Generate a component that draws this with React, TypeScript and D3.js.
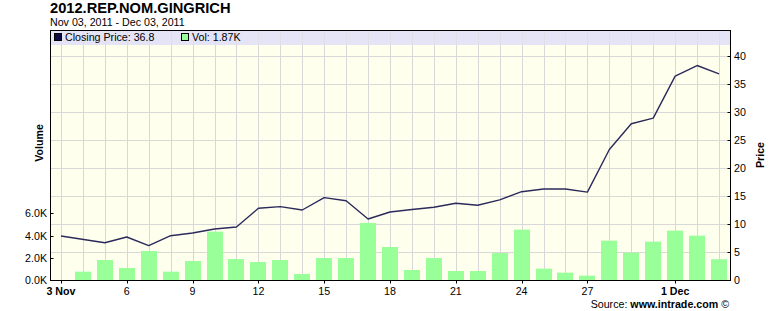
import React from "react";
import * as d3 from "d3";

const dates: string[] = [
  "2011-11-03", "2011-11-04", "2011-11-05", "2011-11-06", "2011-11-07", "2011-11-08",
  "2011-11-09", "2011-11-10", "2011-11-11", "2011-11-12", "2011-11-13", "2011-11-14",
  "2011-11-15", "2011-11-16", "2011-11-17", "2011-11-18", "2011-11-19", "2011-11-20",
  "2011-11-21", "2011-11-22", "2011-11-23", "2011-11-24", "2011-11-25", "2011-11-26",
  "2011-11-27", "2011-11-28", "2011-11-29", "2011-11-30", "2011-12-01", "2011-12-02",
  "2011-12-03",
];

const closingPrice: (number | null)[] = [
  7.86, null, 6.66, 7.68, 6.13, 7.91, 8.39, 9.1, 9.46, 12.8, 13.1, 12.5,
  14.7, 14.16, 10.9, 12.14, 12.6, 13.0, 13.7, 13.34, 14.3, 15.77, 16.25, 16.25,
  15.7, 23.3, 27.9, 28.9, 36.4, 38.3, 36.8,
];

const volume: number[] = [
  0, 750, 1800, 1080, 2610, 750, 1710, 4350, 1890, 1620, 1800, 540,
  1980, 1980, 5130, 2970, 900, 1980, 810, 810, 2430, 4530, 1020, 660,
  390, 3540, 2460, 3450, 4440, 3990, 1870,
];

const xTicks: { date: string; label: string; bold: boolean }[] = [
  { date: "2011-11-03", label: "3 Nov", bold: true },
  { date: "2011-11-06", label: "6", bold: false },
  { date: "2011-11-09", label: "9", bold: false },
  { date: "2011-11-12", label: "12", bold: false },
  { date: "2011-11-15", label: "15", bold: false },
  { date: "2011-11-18", label: "18", bold: false },
  { date: "2011-11-21", label: "21", bold: false },
  { date: "2011-11-24", label: "24", bold: false },
  { date: "2011-11-27", label: "27", bold: false },
  { date: "2011-12-01", label: "1 Dec", bold: true },
];

const priceTicks: number[] = [0, 5, 10, 15, 20, 25, 30, 35, 40];
const volumeTicks: number[] = [0, 2000, 4000, 6000];

const FONT = "'Liberation Sans', Arial, sans-serif";
const FS = 10.67;

export default function App() {
  const W = 780, H = 311;
  const left = 50.5, right = 730.5, top = 30.5, bottom = 280.5;

  const x = d3.scaleBand<string>().domain(dates).range([50, 730]).padding(0);
  const cx = (d: string) => (x(d) as number) + x.bandwidth() / 2;
  const yP = d3.scaleLinear().domain([0, 40]).range([280, 56]);
  const yV = d3.scaleLinear().domain([0, 6000]).range([280, 213.3]);

  const pts = dates
    .map((d, i) => ({ d, v: closingPrice[i] }))
    .filter((p) => p.v !== null) as { d: string; v: number }[];
  const line = d3
    .line<{ d: string; v: number }>()
    .x((p) => cx(p.d))
    .y((p) => yP(p.v));

  const barW = 16;
  const fmtK = (v: number) => (v / 1000).toFixed(1) + "K";

  return (
    <svg width={W} height={H} style={{ position: "absolute", left: 0, top: 0, fontFamily: FONT }}>
      <rect x={0} y={0} width={W} height={H} fill="#ffffff" />
      {/* title */}
      <text x={50} y={13} fontSize={14.67} fontWeight="bold" fill="#000">2012.REP.NOM.GINGRICH</text>
      <text x={50} y={25.5} fontSize={FS} fill="#000">Nov 03, 2011 - Dec 03, 2011</text>

      {/* plot background */}
      <rect x={left} y={top} width={right - left} height={bottom - top} fill="#ffffee" />
      {/* legend band */}
      <rect x={left} y={top} width={right - left} height={14.5} fill="#e4e4f6" />

      {/* vertical grid */}
      {dates.map((d) => (
        <line key={"vg" + d} x1={Math.round(cx(d)) + 0.5} x2={Math.round(cx(d)) + 0.5} y1={top} y2={bottom}
          stroke="#d8d8d8" strokeWidth={1} />
      ))}
      {/* horizontal grid */}
      {priceTicks.filter((t) => t > 0).map((t) => (
        <line key={"hg" + t} x1={left} x2={right} y1={Math.round(yP(t)) + 0.5} y2={Math.round(yP(t)) + 0.5}
          stroke="#d8d8d8" strokeWidth={1} />
      ))}
      {/* legend band overlay so grid looks faint there */}
      <rect x={left} y={top} width={right - left} height={14.5} fill="#e4e4f6" opacity={0.6} />

      {/* volume bars */}
      {dates.map((d, i) =>
        volume[i] > 0 ? (
          <rect key={"b" + d} x={Math.round(cx(d) - barW / 2)} y={yV(volume[i])} width={barW}
            height={280 - yV(volume[i])} fill="#99ff99" />
        ) : null
      )}

      {/* price line */}
      <path d={line(pts) || ""} fill="none" stroke="#2a2a5c" strokeWidth={1.4} strokeLinejoin="round" />

      {/* legend */}
      <rect x={54.5} y={33.5} width={7} height={7} fill="#0a0a40" stroke="#000" strokeWidth={1} />
      <text x={65} y={41} fontSize={FS} fill="#000">Closing Price: 36.8</text>
      <rect x={181.5} y={33.5} width={7} height={7} fill="#99ff99" stroke="#000" strokeWidth={1} />
      <text x={192} y={41} fontSize={FS} fill="#000">Vol: 1.87K</text>

      {/* frame */}
      <rect x={left} y={top} width={right - left} height={bottom - top} fill="none" stroke="#000" strokeWidth={1} />

      {/* left volume axis */}
      {volumeTicks.map((t) => (
        <g key={"vt" + t}>
          <line x1={left} x2={left + 3} y1={Math.round(yV(t)) + 0.5} y2={Math.round(yV(t)) + 0.5} stroke="#000" />
          <text x={47} y={yV(t) + 4} fontSize={FS} textAnchor="end" fill="#000">{fmtK(t)}</text>
        </g>
      ))}
      <text transform="translate(43,143) rotate(-90)" fontSize={FS} fontWeight="bold" textAnchor="middle" fill="#000">Volume</text>

      {/* right price axis */}
      {priceTicks.map((t) => (
        <g key={"pt" + t}>
          <line x1={right - 3} x2={right + 0.5} y1={Math.round(yP(t)) + 0.5} y2={Math.round(yP(t)) + 0.5} stroke="#000" />
          <text x={734} y={yP(t) + 4} fontSize={FS} textAnchor="start" fill="#000">{t}</text>
        </g>
      ))}
      <text transform="translate(764,155) rotate(-90)" fontSize={FS} fontWeight="bold" textAnchor="middle" fill="#000">Price</text>

      {/* x axis */}
      {xTicks.map((t) => (
        <g key={"xt" + t.date}>
          <line x1={Math.round(cx(t.date)) + 0.5} x2={Math.round(cx(t.date)) + 0.5} y1={bottom} y2={bottom + 3} stroke="#000" />
          <text x={cx(t.date)} y={295} fontSize={FS} textAnchor="middle" fontWeight={t.bold ? "bold" : "normal"} fill="#000">{t.label}</text>
        </g>
      ))}

      {/* source */}
      <text x={729} y={308} fontSize={FS} textAnchor="end" fill="#000">
        Source: <tspan fontWeight="bold">www.intrade.com</tspan> ©
      </text>
    </svg>
  );
}
